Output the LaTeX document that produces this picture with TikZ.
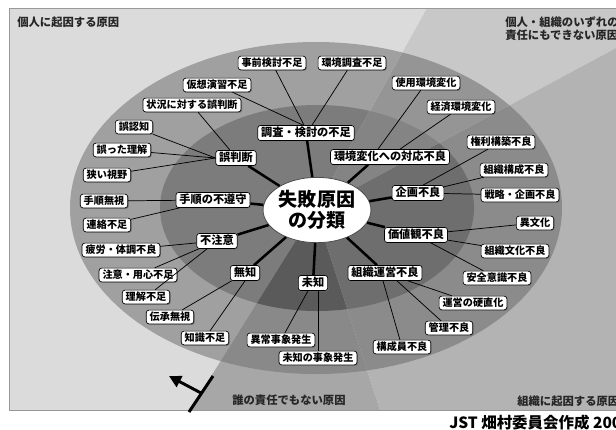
\documentclass[tikz,border=0pt]{standalone}
\usepackage{fontspec}
\setmainfont{Noto Sans CJK JP}
\usetikzlibrary{shapes.geometric,arrows.meta,calc,shadows}
\definecolor{bgL}{HTML}{DBDBDB}
\definecolor{bgT}{HTML}{C8C8C8}
\definecolor{bgR}{HTML}{B3B3B3}
\definecolor{bgB}{HTML}{A7A7A7}
\definecolor{rgL}{HTML}{A0A0A0}
\definecolor{rgT}{HTML}{959595}
\definecolor{rgR}{HTML}{8B8B8B}
\definecolor{rgB}{HTML}{898989}
\definecolor{mdL}{HTML}{7C7C7C}
\definecolor{mdT}{HTML}{848484}
\definecolor{mdR}{HTML}{6E6E6E}
\definecolor{mdB}{HTML}{5A5A5A}
\newcommand\sectorfill[4]{%
  \begin{scope}
    \clip #1;
    \fill[#2] (9,8) rectangle (620,410);
    \fill[#3] (316,208) ellipse [x radius=246, y radius=166];
    \fill[#4] (317,208) ellipse [x radius=157, y radius=103];
  \end{scope}}
\tikzset{
  boxbase/.style={draw=black, fill=white, rounded corners=2pt, line width=0.5pt,
    drop shadow={shadow xshift=0.7pt, shadow yshift=-0.7pt, fill=black!55, opacity=1}},
  subbox/.style={boxbase, inner xsep=2.6pt, inner ysep=1.4pt,
    font=\fontsize{7.6}{8}\selectfont\bfseries, text height=6.3pt, text depth=1.2pt},
  catbox/.style={boxbase, inner xsep=2.6pt, inner ysep=1.5pt,
    font=\fontsize{8.4}{9}\selectfont\bfseries, text height=6.9pt, text depth=1.4pt},
  centerbox/.style={ellipse, draw=black!70, fill=white, line width=0.6pt,
    minimum width=73pt, minimum height=49pt, inner sep=0pt, align=center,
    font=\fontsize{14.3}{16}\selectfont\bfseries},
  thinline/.style={draw=black, line width=0.55pt},
  thickline/.style={draw=black, line width=1.9pt},
  regiontext/.style={font=\fontsize{8.5}{9.8}\selectfont\bfseries, inner sep=0pt, text=black!85}
}
\begin{document}
\begin{tikzpicture}[x=0.75pt,y=-0.75pt]
\useasboundingbox (0,0) rectangle (616,429);
\fill[white] (0,0) rectangle (616,429);
% sector rays
\coordinate (P) at (315,210);
\coordinate (Af) at (539,-194);
\coordinate (Bf) at (917,-114);
\coordinate (Cf) at (65,610);
\coordinate (Df) at (445,610);
\begin{scope}
  \clip (9,8) rectangle (620,410);
  \sectorfill{(P) -- (Af) -- (-500,-600) -- (-500,1000) -- (Cf) -- cycle}{bgL}{rgL}{mdL}
  \sectorfill{(P) -- (Af) -- (1200,-600) -- (Bf) -- cycle}{bgT}{rgT}{mdT}
  \sectorfill{(P) -- (Bf) -- (1500,-100) -- (1500,1000) -- (Df) -- cycle}{bgR}{rgR}{mdR}
  \sectorfill{(P) -- (Df) -- (Cf) -- cycle}{bgB}{rgB}{mdB}
\end{scope}
\draw[black!40, line width=0.7pt] (9,8) rectangle (622,410);

% region labels
\node[regiontext, anchor=west] (tL) at (17,22) {個人に起因する原因};
\node[regiontext, anchor=north west, align=left] (tT) at (505,16) {個人・組織のいずれの\\責任にもできない原因};
\node[regiontext, anchor=west] (tB) at (232,400) {誰の責任でもない原因};
\node[regiontext, anchor=west] (tR) at (517,401) {組織に起因する原因};
\node[anchor=west, inner sep=0pt, font=\fontsize{11.6}{13}\selectfont\bfseries] (credit) at (449,423) {JST 畑村委員会作成 2002};

% marker
\coordinate (m1) at (213,376);
\coordinate (m2) at (189,412);
\coordinate (m3) at (201,393);
\coordinate (m4) at (169,376);
\draw[line width=2.2pt] (m1) -- (m2);
\draw[line width=2.2pt, -{Triangle[length=9pt,width=9pt]}] (m3) -- (m4);

% center
\node[centerbox] (C) at (317,210) {失敗原因\\の分類};

% categories
\node[catbox] (c1) at (306,133) {調査・検討の不足};
\node[catbox] (c2) at (390,157) {環境変化への対応不良};
\node[catbox] (c3) at (418,193) {企画不良};
\node[catbox] (c4) at (416,235) {価値観不良};
\node[catbox] (c5) at (385,273) {組織運営不良};
\node[catbox] (c6) at (313,283) {未知};
\node[catbox] (c7) at (245,273) {無知};
\node[catbox] (c8) at (217,241) {不注意};
\node[catbox] (c9) at (213,200) {手順の不遵守};
\node[catbox] (c10) at (236,158) {誤判断};

% sub causes
\node[subbox] (s1) at (272,63) {事前検討不足};
\node[subbox] (s2) at (217,85) {仮想演習不足};
\node[subbox] (s3) at (352,63) {環境調査不足};
\node[subbox] (s4) at (426,83) {使用環境変化};
\node[subbox] (s5) at (461,107) {経済環境変化};
\node[subbox] (s6) at (501,142) {権利構築不良};
\node[subbox] (s7) at (514,170) {組織構成不良};
\node[subbox] (s8) at (520,195) {戦略・企画不良};
\node[subbox] (s9) at (535,223) {異文化};
\node[subbox] (s10) at (515,251) {組織文化不良};
\node[subbox] (s11) at (497,278) {安全意識不良};
\node[subbox] (s12) at (473,303) {運営の硬直化};
\node[subbox] (s13) at (449,328) {管理不良};
\node[subbox] (s14) at (402,347) {構成員不良};
\node[subbox] (s15) at (281,340) {異常事象発生};
\node[subbox] (s16) at (318,358) {未知の事象発生};
\node[subbox] (s17) at (170,317) {伝承無視};
\node[subbox] (s18) at (205,338) {知識不足};
\node[subbox] (s19) at (121,250) {疲労・体調不良};
\node[subbox] (s20) at (138,275) {注意・用心不足};
\node[subbox] (s21) at (146,297) {理解不足};
\node[subbox] (s22) at (104,201) {手順無視};
\node[subbox] (s23) at (107,225) {連絡不足};
\node[subbox] (s24) at (192,105) {状況に対する誤判断};
\node[subbox] (s25) at (134,127) {誤認知};
\node[subbox] (s26) at (122,150) {誤った理解};
\node[subbox] (s27) at (107,175) {狭い視野};

% thin connectors
\draw[thinline] (s1) -- ($(c1.north)+(-2,0)$);
\draw[thinline] (s2) -- ($(c1.north)+(-3,0)$);
\draw[thinline] (s3) -- ($(c1.north)+(6,0)$);
\draw[thinline] (s4) -- ($(c2.north)+(-12,0)$);
\draw[thinline] (s5) -- ($(c2.north)+(10,0)$);
\draw[thinline] (s6) -- ($(c3.north)+(5,0)$);
\draw[thinline] (s7) -- (c3);
\draw[thinline] (s8) -- (c3);
\draw[thinline] (s9) -- (c4);
\draw[thinline] (s10) -- (c4);
\draw[thinline] (s11) -- (c4);
\draw[thinline] (s12) -- (c5);
\draw[thinline] (s13) -- ($(c5.south)+(12,0)$);
\draw[thinline] (s14) -- ($(c5.south)+(-2,0)$);
\draw[thinline] (s15) -- ($(c6.south)+(-5,0)$);
\draw[thinline] (s16) -- ($(c6.south)+(5,0)$);
\draw[thinline] (s17) -- (c7);
\draw[thinline] (s18) -- (c7.south);
\draw[thinline] (s19) -- (c8);
\draw[thinline] (s20) -- (c8);
\draw[thinline] (s21) -- (c8);
\draw[thinline] (s22) -- (c9);
\draw[thinline] (s23) -- (c9);
\draw[thinline] (s24) -- ($(c10.north)+(-6,0)$);
\draw[thinline] (s25) -- (c10.west);
\draw[thinline] (s26) -- (c10.west);
\draw[thinline] (s27) -- (c10.west);

% thick connectors
\draw[thickline] (c1) -- (C);
\draw[thickline] ($(c2.south)+(-22,0)$) -- (C);
\draw[thickline] (c3) -- (C);
\draw[thickline] (c4) -- (C);
\draw[thickline] ($(c5.north)+(-8,0)$) -- (C);
\draw[thickline] (c6) -- (C);
\draw[thickline] (c7) -- (C);
\draw[thickline] (c8) -- (C);
\draw[thickline] (c9) -- (C);
\draw[thickline] (c10) -- (C);
\end{tikzpicture}
\end{document}
